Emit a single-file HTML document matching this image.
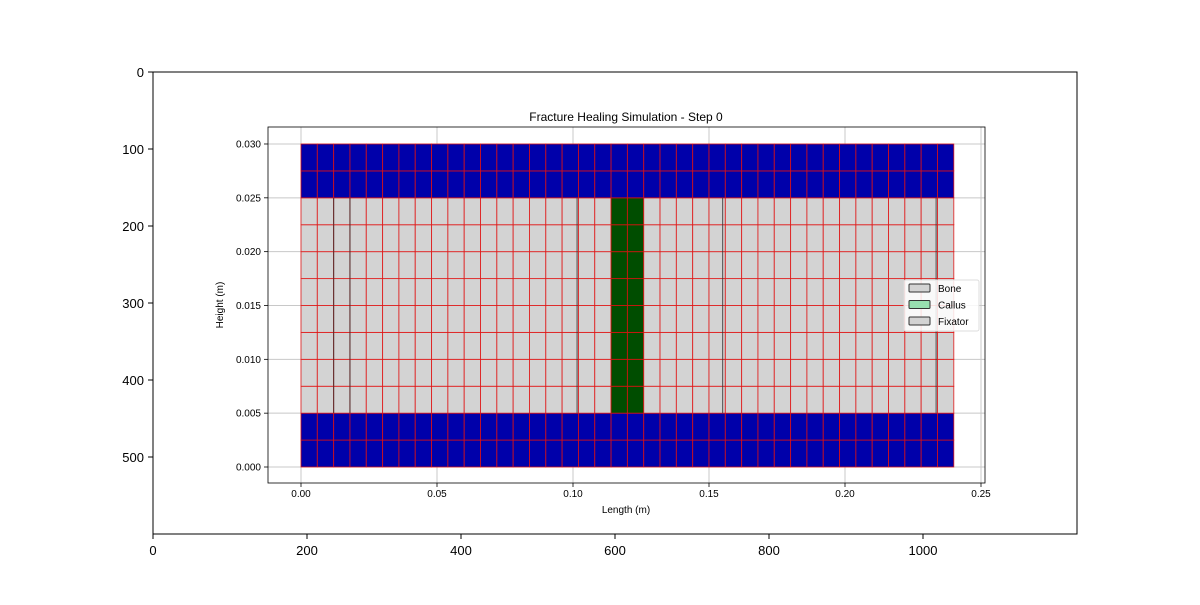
<!DOCTYPE html>
<html><head><meta charset="utf-8"><style>
body{margin:0;background:#fff;}
svg text{font-family:"Liberation Sans","DejaVu Sans",sans-serif;}
</style></head><body>
<svg id="c" width="1200" height="600" xmlns="http://www.w3.org/2000/svg"></svg>
<script>
const nCols = 40;
const nRows = 12;
const cellW = 0.006;
const cellH = 0.0025;
const fixatorRows = [0, 1, 10, 11];
const callusCols = [19, 20];
const pinXs = [0.012, 0.018, 0.1015, 0.155, 0.2335];
const xTicks = [0, 0.05, 0.10, 0.15, 0.20, 0.25];
const xTickLabels = ["0.00","0.05","0.10","0.15","0.20","0.25"];
const yTicks = [0, 0.005, 0.010, 0.015, 0.020, 0.025, 0.030];
const yTickLabels = ["0.000","0.005","0.010","0.015","0.020","0.025","0.030"];
const outerXTicks = [0,200,400,600,800,1000];
const outerYTicks = [0,100,200,300,400,500];

const svg = document.getElementById('c');
const NS = 'http://www.w3.org/2000/svg';
function el(tag, attrs, parent){const e=document.createElementNS(NS,tag);for(const k in attrs)e.setAttribute(k,attrs[k]);(parent||svg).appendChild(e);return e;}
const X = x => 301 + x*2720;
const Y = y => 467 - y*10767;
const OX = v => 153 + v*0.77;
const OY = v => 72 + v*0.77;

// outer axes
const oframe = el('rect',{x:153,y:72,width:924,height:462,fill:'none',stroke:'#000','stroke-width':1});


outerXTicks.forEach(v=>{
  const l=el('line',{x1:OX(v),x2:OX(v),y1:534,y2:539,stroke:'#000'});
  
  
  const t=el('text',{x:OX(v),y:555,'text-anchor':'middle','font-size':13});
  t.textContent=v;
  
  
});
outerYTicks.forEach(v=>{
  const l=el('line',{x1:148,x2:153,y1:OY(v),y2:OY(v),stroke:'#000'});
  
  
  const t=el('text',{x:144,y:OY(v)+5,'text-anchor':'end','font-size':13});
  t.textContent=v;
  
  
});

// inner grid lines
xTicks.forEach(v=>{const l=el('line',{x1:X(v),x2:X(v),y1:127,y2:483,stroke:'#c8c8c8'});
  
  });
yTicks.forEach(v=>{const l=el('line',{x1:268,x2:985,y1:Y(v),y2:Y(v),stroke:'#c8c8c8'});
  
  });

// cells
for(let r=0;r<nRows;r++){
  for(let c=0;c<nCols;c++){
    const y0=r*cellH, x0=c*cellW;
    let fill='#d3d3d3';
    if(fixatorRows.includes(r)) fill='#0000aa';
    else if(callusCols.includes(c)) fill='#004d00';
    const rc=el('rect',{x:X(x0),y:Y(y0+cellH),width:X(x0+cellW)-X(x0),height:Y(y0)-Y(y0+cellH),fill:fill,stroke:'#e01010','stroke-width':0.9,'stroke-opacity':0.85});
    
    
  }
}
pinXs.forEach(v=>{const l=el('line',{x1:X(v),x2:X(v),y1:Y(0.025),y2:Y(0.005),stroke:'#333','stroke-width':1.2,'stroke-opacity':0.7});
  
  });

// inner frame
const iframe=el('rect',{x:268,y:127,width:717,height:356,fill:'none',stroke:'#000','stroke-width':0.8});


xTicks.forEach((v,i)=>{
  const l=el('line',{x1:X(v),x2:X(v),y1:483,y2:487,stroke:'#000','stroke-width':0.8});
  
  
  const t=el('text',{x:X(v),y:497,'text-anchor':'middle','font-size':10});
  t.textContent=xTickLabels[i];
  
  
});
yTicks.forEach((v,i)=>{
  const l=el('line',{x1:264,x2:268,y1:Y(v),y2:Y(v),stroke:'#000','stroke-width':0.8});
  
  
  const t=el('text',{x:261,y:Y(v)+3.5,'text-anchor':'end','font-size':10});
  t.textContent=yTickLabels[i];
  
  
});
const title=el('text',{x:626,y:121,'text-anchor':'middle','font-size':12});
title.textContent='Fracture Healing Simulation - Step 0';


const xl=el('text',{x:626,y:513,'text-anchor':'middle','font-size':10});
xl.textContent='Length (m)';


const yl=el('text',{x:223,y:305,'text-anchor':'middle','font-size':10,transform:'rotate(-90 223 305)'});
yl.textContent='Height (m)';



// legend
const lg=el('rect',{x:904,y:280,width:75,height:51,fill:'#fff','fill-opacity':0.85,stroke:'#ddd',rx:2});


[['Bone','#d3d3d3'],['Callus','#98e0b0'],['Fixator','#d3d3d3']].forEach((e,i)=>{
  const r=el('rect',{x:909,y:284+i*16.5,width:21,height:8,fill:e[1],stroke:'#333','stroke-width':1,rx:1});
  
  
  const t=el('text',{x:938,y:292+i*16.5,'font-size':10});
  t.textContent=e[0];
  
  
});
</script>
</body></html>
